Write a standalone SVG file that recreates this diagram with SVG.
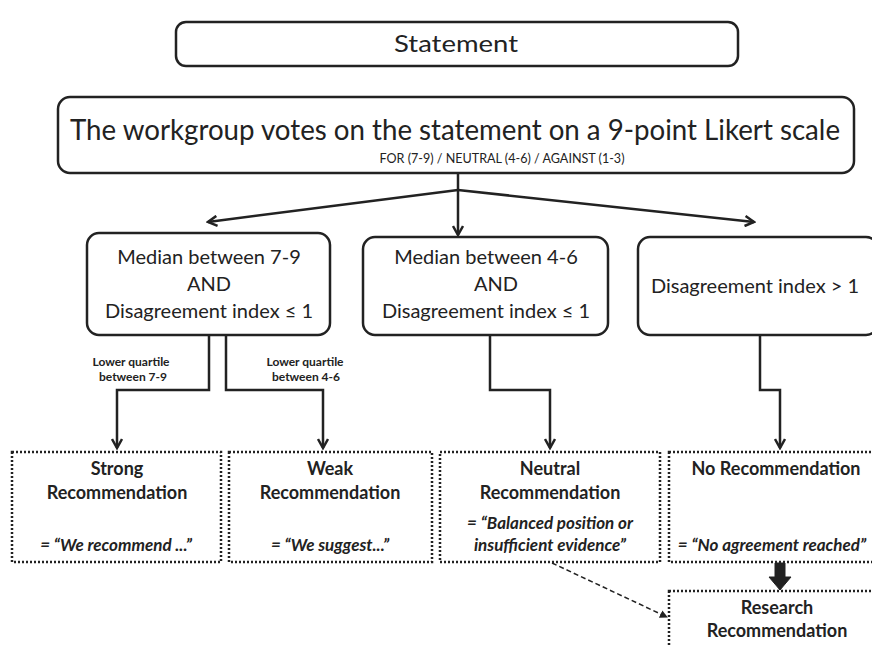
<svg xmlns="http://www.w3.org/2000/svg" width="872" height="645" viewBox="0 0 872 645">
<style>
.box{fill:#fff;stroke:#222;stroke-width:2.5}
.dot{fill:#fff;stroke:#222;stroke-width:2.5;stroke-dasharray:2 2}
.t{font-family:Lato,"Open Sans","Liberation Sans",sans-serif;fill:#222;text-anchor:middle}
.b{font-weight:bold}
.bi{font-weight:bold;font-style:italic}
.ln{fill:none;stroke:#222;stroke-width:2.5}
</style>
<defs>
<marker id="ah" markerWidth="12" markerHeight="12" refX="10" refY="6" orient="auto" markerUnits="userSpaceOnUse">
<path d="M1,1 L10,6 L1,11" fill="none" stroke="#222" stroke-width="2.5"/>
</marker>
<marker id="sh" markerWidth="8" markerHeight="8" refX="7" refY="4" orient="auto" markerUnits="userSpaceOnUse">
<path d="M0,0 L8,4 L0,8 Z" fill="#222"/>
</marker>
</defs>
<g id="statement">
<rect class="box" x="176" y="22" width="562" height="44" rx="10"/>
<text class="t" x="456" y="52" font-size="24" textLength="124" lengthAdjust="spacingAndGlyphs">Statement</text>
</g>
<g id="vote">
<rect class="box" x="58" y="97" width="796" height="76" rx="12"/>
<text class="t" x="455" y="140" font-size="28" textLength="770" lengthAdjust="spacingAndGlyphs">The workgroup votes on the statement on a 9-point Likert scale</text>
<text class="t" x="502" y="163" font-size="14" textLength="245" lengthAdjust="spacingAndGlyphs">FOR (7-9) / NEUTRAL (4-6) / AGAINST (1-3)</text>
</g>
<g id="cond1">
<rect class="box" x="87" y="233" width="243" height="102" rx="12"/>
<text class="t" x="209" y="264" font-size="20">Median between 7-9</text>
<text class="t" x="209" y="291" font-size="20">AND</text>
<text class="t" x="209" y="318" font-size="20">Disagreement index ≤ 1</text>
</g>
<g id="cond2">
<rect class="box" x="363" y="237" width="245" height="98" rx="12"/>
<text class="t" x="486" y="264" font-size="20">Median between 4-6</text>
<text class="t" x="496" y="291" font-size="20">AND</text>
<text class="t" x="486" y="318" font-size="20">Disagreement index ≤ 1</text>
</g>
<g id="cond3">
<rect class="box" x="638" y="237" width="240" height="98" rx="12"/>
<text class="t" x="755" y="293" font-size="20">Disagreement index &gt; 1</text>
</g>
<g id="labels">
<text class="t b" x="131" y="366" font-size="12">Lower quartile</text>
<text class="t b" x="133" y="381" font-size="12">between 7-9</text>
<text class="t b" x="305" y="366" font-size="12">Lower quartile</text>
<text class="t b" x="306" y="381" font-size="12">between 4-6</text>
</g>
<g id="strong">
<rect class="dot" x="12" y="452" width="209" height="110"/>
<text class="t b" x="117" y="475" font-size="18">Strong</text>
<text class="t b" x="117" y="499" font-size="18">Recommendation</text>
<text class="t bi" x="116" y="551" font-size="17">= “We recommend ...”</text>
</g>
<g id="weak">
<rect class="dot" x="229" y="452" width="203" height="110"/>
<text class="t b" x="330" y="475" font-size="18">Weak</text>
<text class="t b" x="330" y="499" font-size="18">Recommendation</text>
<text class="t bi" x="330" y="551" font-size="17">= “We suggest...”</text>
</g>
<g id="neutral">
<rect class="dot" x="440" y="452" width="220" height="110"/>
<text class="t b" x="550" y="475" font-size="18">Neutral</text>
<text class="t b" x="550" y="499" font-size="18">Recommendation</text>
<text class="t bi" x="550" y="529" font-size="17">= “Balanced position or</text>
<text class="t bi" x="550" y="551" font-size="17">insufficient evidence”</text>
</g>
<g id="norec">
<rect class="dot" x="669" y="452" width="215" height="110"/>
<text class="t b" x="776" y="475" font-size="18">No Recommendation</text>
<text class="t bi" x="772" y="551" font-size="17">= “No agreement reached”</text>
</g>
<g id="research">
<rect class="dot" x="669" y="591" width="215" height="70"/>
<text class="t b" x="777" y="614" font-size="18">Research</text>
<text class="t b" x="777" y="637" font-size="18">Recommendation</text>
</g>
<g id="connectors">
<path class="ln" d="M458,173 V190"/>
<path class="ln" d="M458,190 L208,222" marker-end="url(#ah)"/>
<path class="ln" d="M458,190 V235" marker-end="url(#ah)"/>
<path class="ln" d="M458,190 L754,222" marker-end="url(#ah)"/>
<path class="ln" d="M209,335 V390 H117 V448" marker-end="url(#ah)"/>
<path class="ln" d="M226,335 V390 H323 V448" marker-end="url(#ah)"/>
<path class="ln" d="M490,335 V390 H550 V448" marker-end="url(#ah)"/>
<path class="ln" d="M760,335 V390 H780 V448" marker-end="url(#ah)"/>
<path d="M775,563 H785 V577 H791 L780,590 L769,577 H775 Z" fill="#222" stroke="#222" stroke-width="1"/>
<path d="M552,563 L667,617" fill="none" stroke="#222" stroke-width="1.5" stroke-dasharray="5 3" marker-end="url(#sh)"/>
</g>
</svg>
